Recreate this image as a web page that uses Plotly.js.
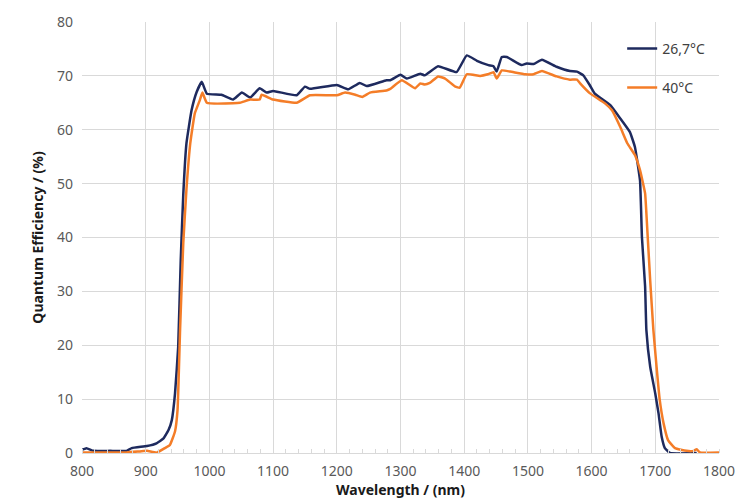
<!DOCTYPE html>
<html>
<head>
<meta charset="utf-8">
<script src="https://cdn.plot.ly/plotly-3.0.1.min.js"></script>
<style>html,body{margin:0;padding:0;background:#fff;}#chart{width:741px;height:501px;}</style>
</head>
<body>
<div id="chart"></div>
<script>
const seriesNames = ["26,7°C", "40°C"];

const wl267 = [800,807,818,844,870,878,902,917,928,936,941,946,951,955,959,964,972,980,988,996,1019,1037,1051,1064,1079,1090,1100,1137,1150,1158,1200,1218,1236,1247,1278,1284,1300,1310,1331,1338,1359,1388,1404,1420,1438,1446,1451,1459,1467,1490,1498,1509,1522,1545,1566,1577,1587,1597,1605,1629,1645,1660,1668,1676,1679,1684,1686,1692,1700,1705,1710,1715,1723,1765];
const qe267 = [0.6,0.9,0.4,0.4,0.4,0.9,1.3,1.8,2.7,4.3,6.1,11,19.7,35.8,48,57.5,63.6,67,68.9,66.7,66.5,65.6,66.9,66,67.7,66.9,67.2,66.4,68,67.6,68.3,67.5,68.7,68.1,69.2,69.2,70.2,69.5,70.4,70.1,71.8,70.7,73.8,72.8,72,71.8,70.8,73.5,73.5,72,72.3,72.2,73,71.7,70.9,70.8,70.1,68.3,66.7,64.6,62.1,59.6,56.8,50.6,40.1,30.9,22.8,16,11,7.4,3,0.9,0,0];

const wl40 = [800,870,891,902,917,930,938,946,950,954,959,964,970,977,985,989,996,1037,1048,1064,1079,1082,1100,1137,1158,1200,1213,1229,1240,1252,1278,1284,1302,1323,1331,1338,1346,1359,1370,1386,1393,1404,1425,1437,1446,1451,1459,1472,1496,1509,1522,1545,1566,1577,1582,1597,1621,1632,1645,1656,1668,1676,1684,1686,1692,1697,1702,1707,1713,1720,1731,1749,1760,1765,1770,1800];
const qe40 = [0.1,0.1,0.3,0.4,0.05,0.9,1.5,4,8,23,39,49,57.5,63,65.5,66.9,65,64.9,65,65.6,65.6,66.5,65.6,65,66.4,66.4,66.9,66.5,66.1,66.9,67.3,67.6,69.2,67.7,68.6,68.4,68.7,69.9,69.5,68,67.8,70.3,70,70.3,70.7,69.5,71,70.8,70.3,70.3,70.9,69.9,69.3,69.3,68.6,66.8,64.9,63.6,60.5,57.5,55.3,52.5,48.2,44.5,32,22.8,16,9.8,5.5,2.4,0.9,0.4,0.4,0.7,0.1,0.1];

const xTickVals = [800,900,1000,1100,1200,1300,1400,1500,1600,1700,1800];
const yTickVals = [0,10,20,30,40,50,60,70,80];

const font = "Noto Sans, DejaVu Sans, sans-serif";

const traces = [
  {x: wl267, y: qe267, name: seriesNames[0], type: "scatter", mode: "lines", legendgroup: "a",
   line: {color: "#1E2A5E", width: 2.5, shape: "spline", smoothing: 0.35}},
  {x: wl40, y: qe40, name: seriesNames[1], type: "scatter", mode: "lines", legendgroup: "b",
   line: {color: "#F47D28", width: 2.5, shape: "spline", smoothing: 0.35}}
];

const layout = {
  width: 741, height: 501,
  margin: {l: 82, r: 22, t: 22, b: 48},
  paper_bgcolor: "#fff", plot_bgcolor: "#fff",
  font: {family: font, color: "#595959", size: 14},
  showlegend: true,
  legend: {x: 0.848, y: 0.975, xanchor: "left", yanchor: "top", bgcolor: "rgba(0,0,0,0)",
           font: {size: 14, color: "#404040"}, tracegroupgap: 18, itemwidth: 30},
  xaxis: {
    range: [800, 1800], tickvals: xTickVals, ticks: "", showgrid: true, gridcolor: "#d9d9d9", gridwidth: 1,
    zeroline: false, showline: true, linecolor: "#d9d9d9", linewidth: 1, ticklabelstandoff: 5,
    minor: {dtick: 20, tick0: 800, ticks: "inside", ticklen: 4, tickcolor: "#d9d9d9", showgrid: false},
    tickfont: {size: 14, color: "#595959"},
    title: {text: "Wavelength / (nm)", standoff: 5, font: {size: 14, color: "#1a1a1a", weight: "bold"}}
  },
  yaxis: {
    range: [0, 80], tickvals: yTickVals, ticks: "", showgrid: true, gridcolor: "#d9d9d9", gridwidth: 1,
    zeroline: false, showline: false, ticklabelstandoff: 8,
    tickfont: {size: 14, color: "#595959"},
    title: {text: "Quantum Efficiency / (%)", standoff: 10, font: {size: 14, color: "#1a1a1a", weight: "bold"}}
  }
};

Plotly.newPlot("chart", traces, layout, {staticPlot: true, displayModeBar: false});
</script>
</body>
</html>
